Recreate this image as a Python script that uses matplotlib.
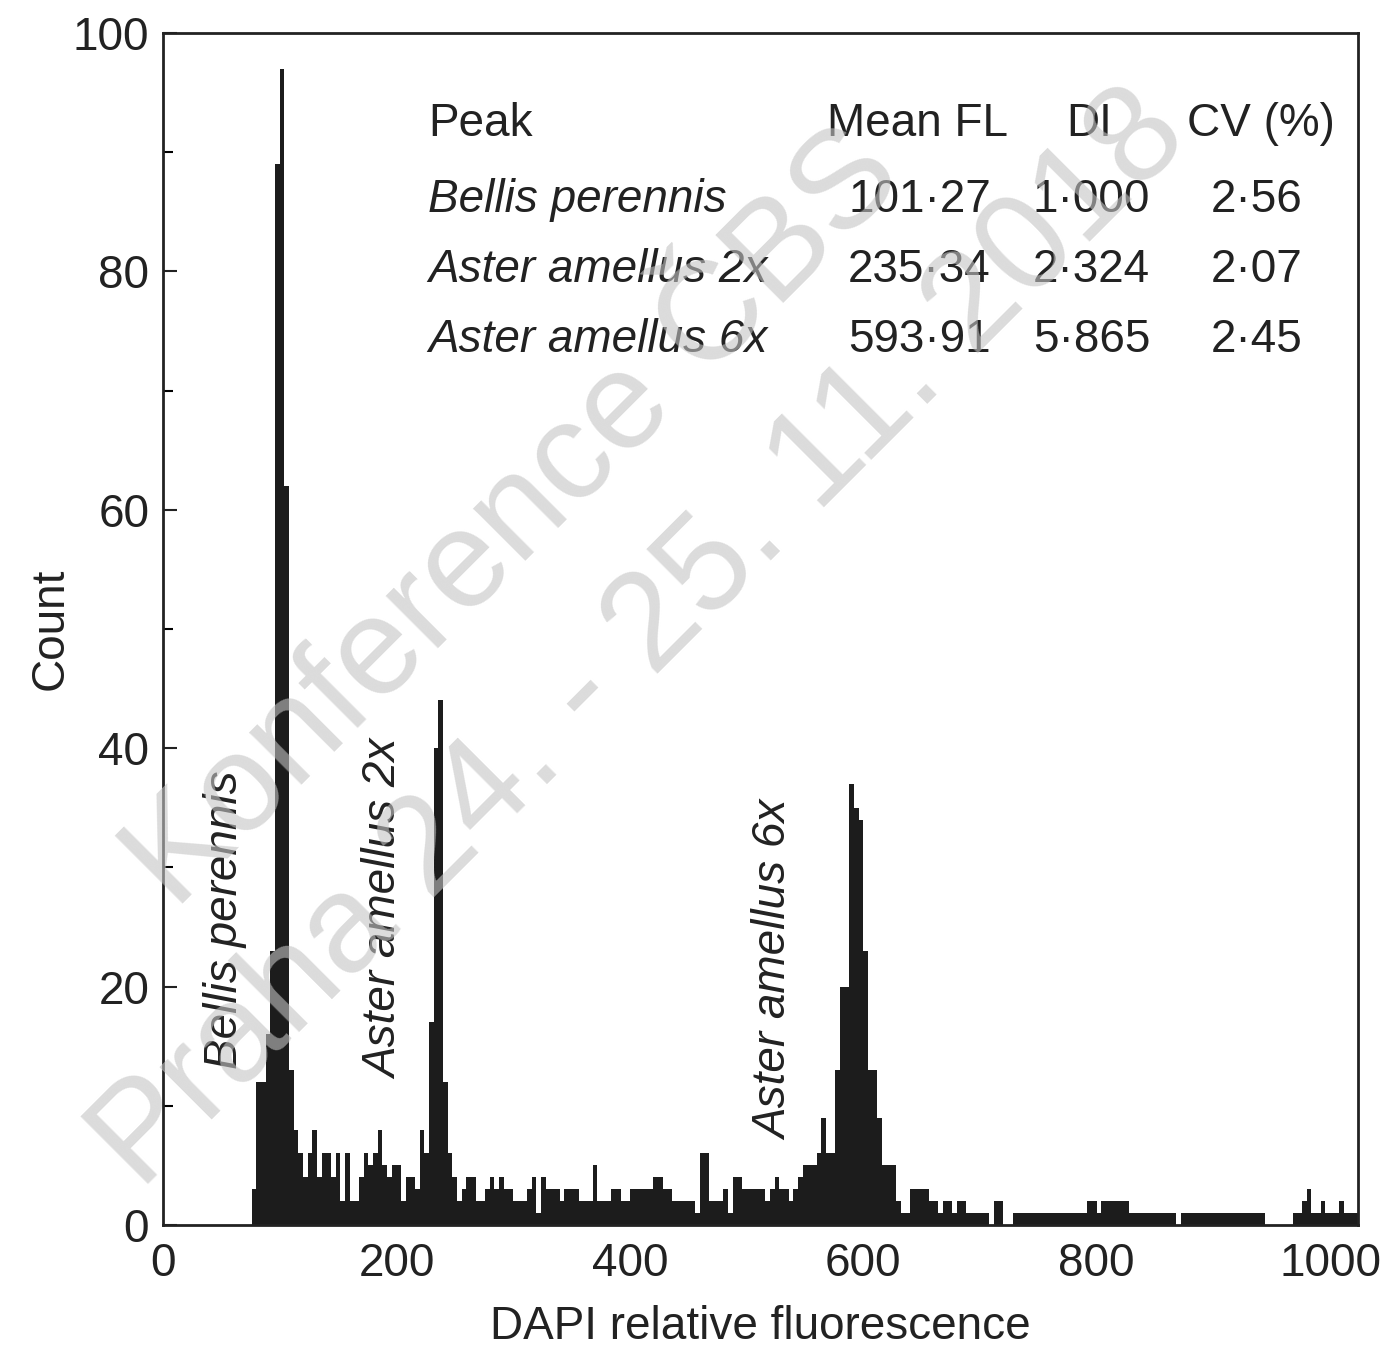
import numpy as np
import matplotlib
matplotlib.use("Agg")
import matplotlib.pyplot as plt

plt.rcParams['font.family'] = ['Liberation Sans', 'DejaVu Sans']

# histogram: channel width 4, first channel at 72
bin_start = 72
bin_width = 4
counts = [
    0, 3, 12, 12, 16, 23, 89, 97, 62, 13,          # 72-108
    8, 6, 4, 6, 8, 4, 6, 6, 4, 6,                  # 112-148
    2, 6, 2, 2, 4, 6, 5, 6, 8, 5,                  # 152-188
    4, 5, 5, 2, 4, 4, 3, 8, 6, 17,                 # 192-228
    40, 44, 12, 6, 4, 2, 3, 4, 4, 2,               # 232-268
    2, 3, 4, 3, 4, 3, 3, 2, 2, 2,                  # 272-308
    3, 4, 1, 4, 3, 3, 3, 2, 3, 3,                  # 312-348
    3, 2, 2, 2, 5, 2, 2, 2, 3, 3,                  # 352-388
    2, 2, 3, 3, 3, 3, 3, 4, 4, 3,                  # 392-428
    3, 2, 2, 2, 2, 2, 1, 6, 6, 2,                  # 432-468
    2, 2, 3, 1, 4, 4, 3, 3, 3, 3,                  # 472-508
    3, 2, 3, 4, 3, 3, 2, 3, 4, 5,                  # 512-548
    5, 5, 6, 9, 6, 6, 13, 20, 20, 37,              # 552-588
    35, 34, 23, 13, 13, 9, 5, 5, 5, 2,             # 592-628
    1, 1, 3, 3, 3, 3, 2, 2, 1, 2,                  # 632-668
    2, 1, 2, 2, 1, 1, 1, 1, 1, 0,                  # 672-708
    2, 2, 0, 0, 1, 1, 1, 1, 1, 1,                  # 712-748
    1, 1, 1, 1, 1, 1, 1, 1, 1, 1,                  # 752-788
    2, 2, 1, 2, 2, 2, 2, 2, 2, 1,                  # 792-828
    1, 1, 1, 1, 1, 1, 1, 1, 1, 0,                  # 832-868
    1, 1, 1, 1, 1, 1, 1, 1, 1, 1,                  # 872-908
    1, 1, 1, 1, 1, 1, 1, 1, 0, 0,                  # 912-948
    0, 0, 0, 0, 1, 1, 2, 3, 1, 1,                  # 952-988
    2, 1, 1, 1, 2, 1, 1, 1, 1,                     # 992-1024
]
edges = bin_start + bin_width * np.arange(len(counts))

peaks = ["Bellis perennis", "Aster amellus 2x", "Aster amellus 6x"]
mean_fl = ["101\u00b727", "235\u00b734", "593\u00b791"]
di = ["1\u00b7000", "2\u00b7324", "5\u00b7865"]
cv = ["2\u00b756", "2\u00b707", "2\u00b745"]
label_x = [53, 190, 525]   # peak labels (data coords)
label_y = [25.6, 26.5, 21.4]

fig = plt.figure(figsize=(13.89, 13.51), dpi=100)
ax = fig.add_axes([0.1174, 0.0933, 0.8603, 0.8823])

ax.bar(edges, counts, width=bin_width, align="edge", color="#1c1c1c",
       edgecolor="none", linewidth=0)

fs = 33
col = "#222222"
ax.set_xlim(0, 1024)
ax.set_ylim(0, 100)
ax.set_xticks([0, 200, 400, 600, 800, 1000])
ax.set_yticks([0, 20, 40, 60, 80, 100])
ax.set_yticks(np.arange(10, 100, 20), minor=True)
ax.tick_params(axis="both", which="major", direction="in", length=10,
               width=1.5, labelsize=fs, colors=col)
ax.tick_params(axis="y", which="minor", direction="in", length=7, width=1.5)
ax.tick_params(axis="x", length=0, pad=12)
ax.tick_params(axis="y", pad=10)
for s in ax.spines.values():
    s.set_linewidth(2)
    s.set_color(col)

ax.set_xlabel("DAPI relative fluorescence", fontsize=fs, color=col,
              labelpad=14)
ax.set_ylabel("Count", fontsize=fs, color=col, labelpad=0)

# table of peaks
y_rows = [0.924, 0.860, 0.801, 0.742]
ax.text(0.222, y_rows[0], "Peak", transform=ax.transAxes, fontsize=fs,
        va="center", ha="left", color=col)
ax.text(0.631, y_rows[0], "Mean FL", transform=ax.transAxes, fontsize=fs,
        va="center", ha="center", color=col)
ax.text(0.775, y_rows[0], "DI", transform=ax.transAxes, fontsize=fs,
        va="center", ha="center", color=col)
ax.text(0.919, y_rows[0], "CV (%)", transform=ax.transAxes, fontsize=fs,
        va="center", ha="center", color=col)
for i in range(3):
    yy = y_rows[i + 1]
    ax.text(0.222, yy, peaks[i], transform=ax.transAxes, fontsize=fs,
            style="italic", va="center", ha="left", color=col)
    ax.text(0.633, yy, mean_fl[i], transform=ax.transAxes, fontsize=fs,
            va="center", ha="center", color=col)
    ax.text(0.777, yy, di[i], transform=ax.transAxes, fontsize=fs,
            va="center", ha="center", color=col)
    ax.text(0.915, yy, cv[i], transform=ax.transAxes, fontsize=fs,
            va="center", ha="center", color=col)

# rotated peak labels
for name, lx, ly in zip(peaks, label_x, label_y):
    ax.text(lx, ly, name, rotation=90, fontsize=fs, style="italic",
            va="center", ha="center", color=col)

# watermark
wm = dict(rotation=45, color="#c4c4c4", alpha=0.6, ha="center",
          va="center", fontsize=100, transform=fig.transFigure, zorder=5)
fig.text(0.371, 0.615, "Konference \u010cBS", **wm)
fig.text(0.461, 0.526, "Praha 24. - 25. 11. 2018", **wm)

fig.savefig("out.png", dpi=100)
